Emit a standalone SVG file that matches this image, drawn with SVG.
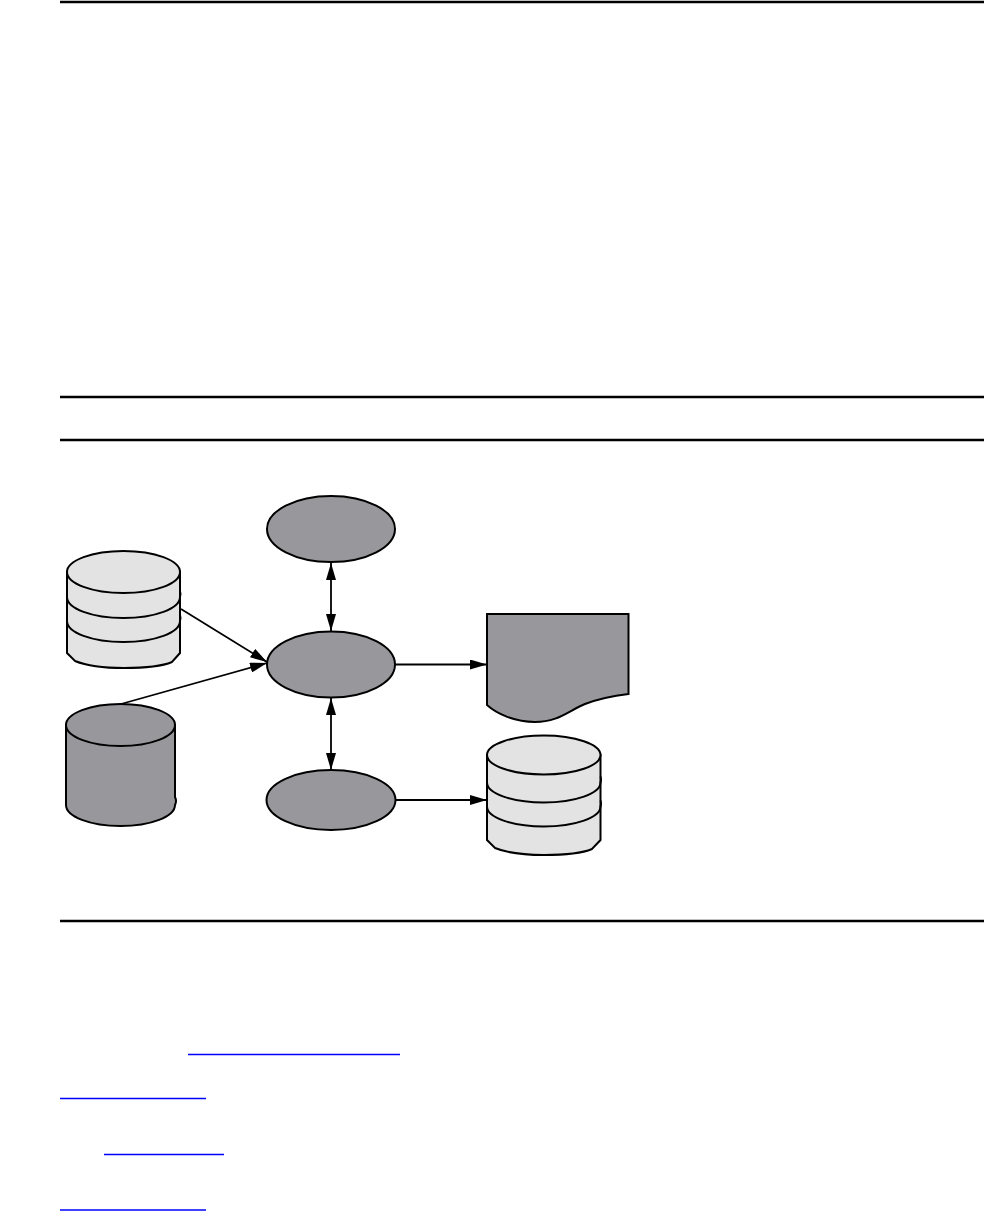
<svg xmlns="http://www.w3.org/2000/svg" width="984" height="1211" viewBox="0 0 984 1211">
<style>
.rule{stroke:#000;stroke-width:2.6;fill:none}
.link{stroke:#0000ff;stroke-width:1.3;fill:none}
.dark{fill:#98979c;stroke:#000;stroke-width:2}
.light{fill:#e3e3e3;stroke:#000;stroke-width:2}
.edge{stroke:#000;stroke-width:1.8;fill:none}
.line{stroke:#000;stroke-width:2;fill:none}
</style>
<defs>
<marker id="ah" viewBox="0 0 17 10" refX="17" refY="5" markerWidth="17" markerHeight="10" markerUnits="userSpaceOnUse" orient="auto-start-reverse">
<path d="M0,0 L17,5 L0,10 Z" fill="#000"/>
</marker>
</defs>
<rect width="984" height="1211" fill="#fff"/>
<g id="rules">
<line class="rule" x1="60" y1="2" x2="984" y2="2"/>
<line class="rule" x1="60" y1="397" x2="984" y2="397"/>
<line class="rule" x1="60" y1="440" x2="984" y2="440"/>
<line class="rule" x1="60" y1="921" x2="984" y2="921"/>
</g>
<g id="links">
<line class="link" x1="188" y1="1054.5" x2="400" y2="1054.5"/>
<line class="link" x1="60" y1="1098.5" x2="206" y2="1098.5"/>
<line class="link" x1="104" y1="1154.5" x2="224" y2="1154.5"/>
<line class="link" x1="60" y1="1210" x2="206" y2="1210"/>
</g>
<g id="connectors">
<line class="edge" x1="181" y1="609" x2="267" y2="662" marker-end="url(#ah)"/>
<line class="edge" x1="121" y1="704" x2="267" y2="663" marker-end="url(#ah)"/>
<line class="edge" x1="331" y1="563" x2="331" y2="631" marker-start="url(#ah)" marker-end="url(#ah)"/>
<line class="edge" x1="331" y1="698" x2="331" y2="770" marker-start="url(#ah)" marker-end="url(#ah)"/>
<line class="edge" x1="395" y1="664.5" x2="487" y2="664.5" marker-end="url(#ah)"/>
<line class="edge" x1="395" y1="800" x2="487" y2="800" marker-end="url(#ah)"/>
</g>
<g id="node-top">
<ellipse class="dark" cx="331" cy="529" rx="64" ry="33"/>
</g>
<g id="node-middle">
<ellipse class="dark" cx="331" cy="664.5" rx="64" ry="33"/>
</g>
<g id="node-bottom">
<ellipse class="dark" cx="331" cy="800" rx="64.5" ry="30"/>
</g>
<g id="db-left-light">
<path class="light" d="M67,572 L67,653 L75,661 Q92,668 124,668 Q158,668 172,662 L180,653 L180,572 Z"/>
<ellipse class="light" cx="123.5" cy="572" rx="56.5" ry="21"/>
<path class="line" d="M67,597 A56.5,21 0 0 0 180,597 Q181,594 180,591"/>
<path class="line" d="M67,621 A56.5,21 0 0 0 180,621 Q181,618 180,615"/>
</g>
<g id="db-left-dark">
<path class="dark" d="M66,725 L66,805 A54.5,21 0 0 0 175,805 Q177,801 175,797 L175,725 Z"/>
<ellipse class="dark" cx="120.5" cy="725" rx="54.5" ry="21"/>
</g>
<g id="document">
<path class="dark" d="M487,614 L628.5,614 L628.5,694 C612,696 598,699 585,704 C568,711 558,722 535,722 C515,722 497,714 487,705 Z"/>
</g>
<g id="db-right-light">
<path class="light" d="M487,755 L487,840 L495,848 Q512,855 544,855 Q578,855 592,849 L600.5,840 L600.5,755 Z"/>
<ellipse class="light" cx="543.75" cy="755" rx="56.75" ry="19.5"/>
<path class="line" d="M487,782.5 A56.75,20 0 0 0 600.5,782.5 Q601.5,779.5 600.5,776.5"/>
<path class="line" d="M487,806.5 A56.75,20 0 0 0 600.5,806.5 Q601.5,803.5 600.5,800.5"/>
</g>
</svg>
